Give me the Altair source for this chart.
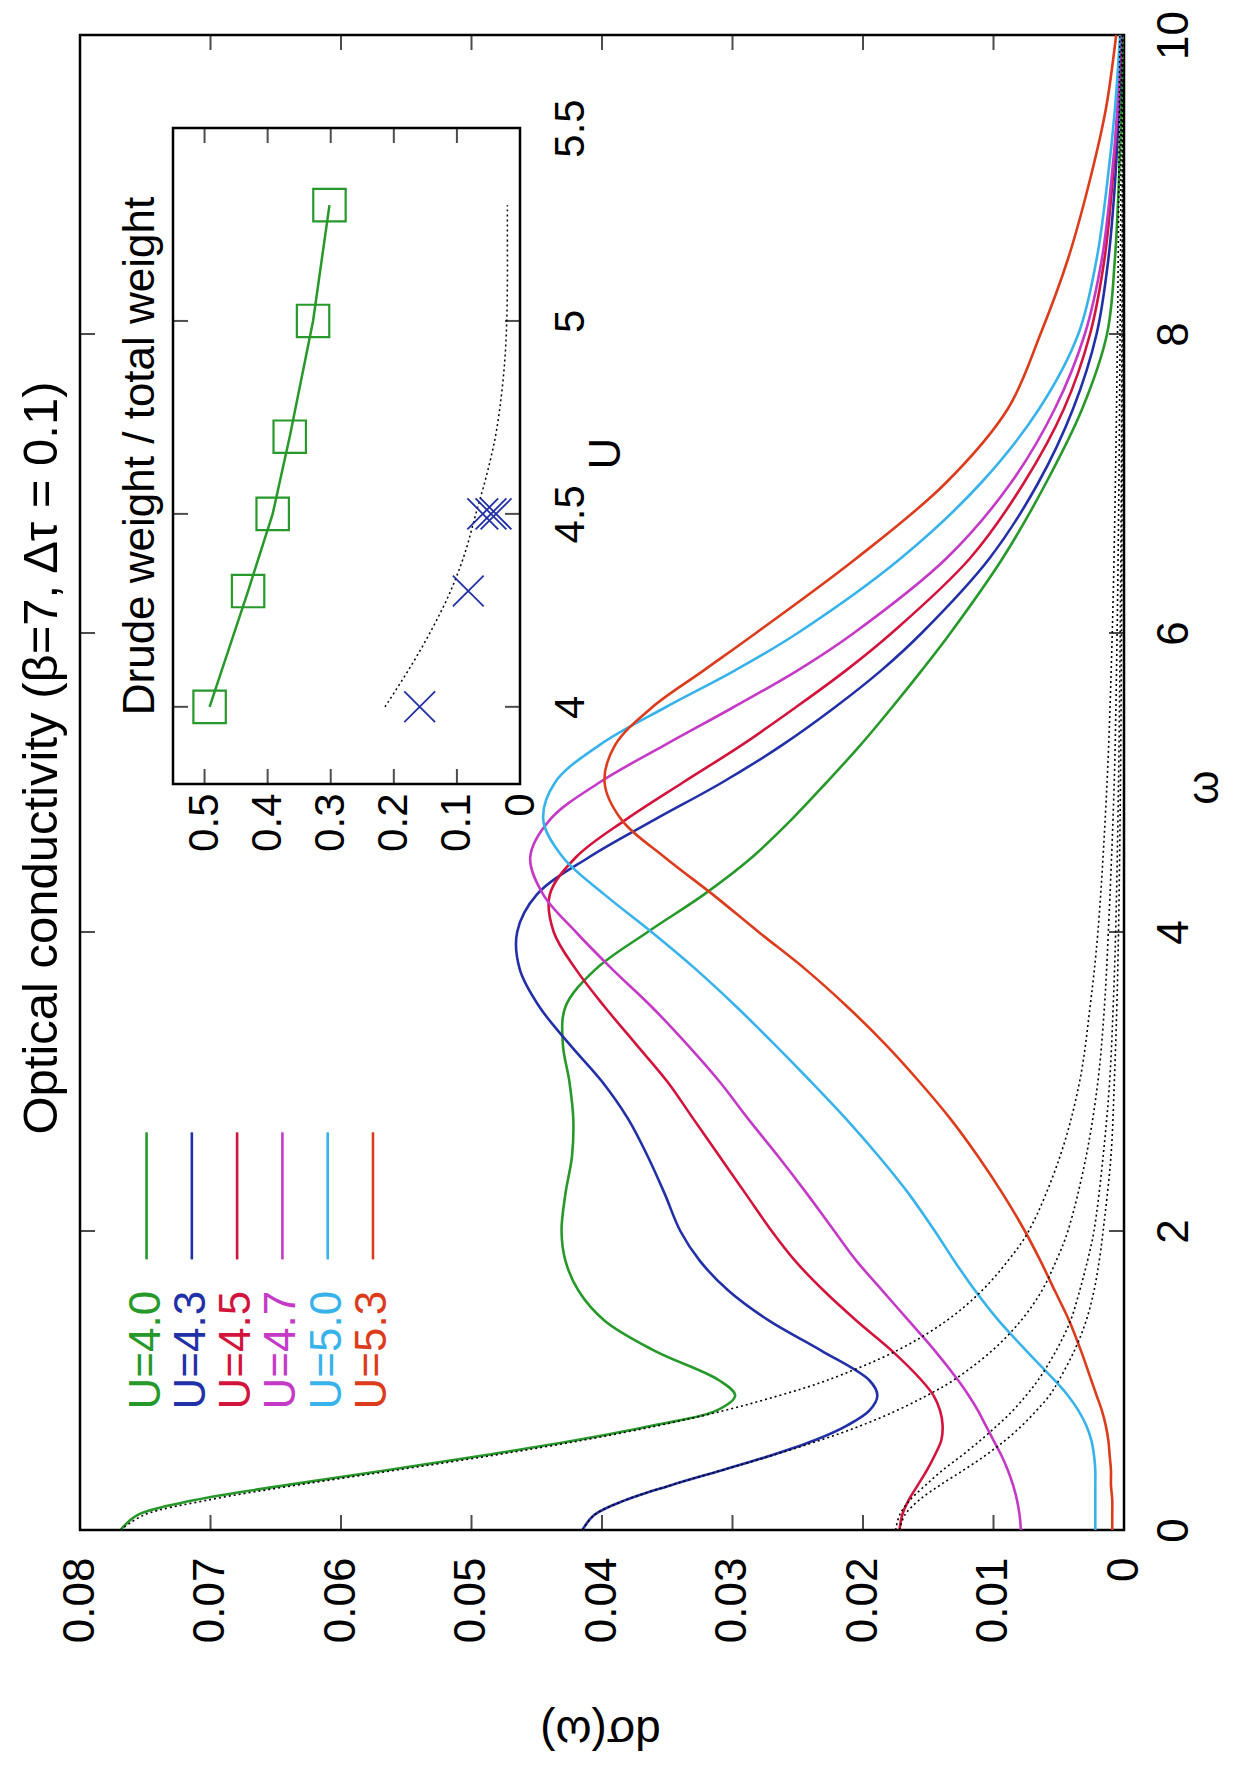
import altair as alt
import pandas as pd

# ---------------- data ----------------
omega = [0, 0.1, 0.2, 0.3, 0.4, 0.5, 0.6, 0.7, 0.8, 0.9, 1.0,
         1.2, 1.4, 1.6, 1.8, 2.0,
         2.25, 2.5, 2.75, 3.0, 3.25, 3.5, 3.75, 4.0, 4.25, 4.5, 4.75, 5.0, 5.25, 5.5, 5.75, 6.0,
         6.5, 7.0, 7.5, 8.0, 8.5, 9.0, 9.5, 10.0]

sigma_u40 = [0.0769, 0.0756, 0.0712, 0.0642, 0.0565, 0.0490, 0.0420, 0.0360, 0.0312, 0.0298, 0.0310,
             0.0360, 0.0398, 0.0418, 0.0428, 0.0431,
             0.0428, 0.0423, 0.0422, 0.0425, 0.0430, 0.0428, 0.0405, 0.0365, 0.0322, 0.0285, 0.0255, 0.0228,
             0.0202, 0.0178, 0.0155, 0.0133,
             0.0093, 0.0060, 0.0032, 0.0013, 0.0007, 0.0004, 0.0002, 0.0001]
sigma_u43 = [0.0415, 0.0406, 0.0382, 0.0347, 0.0308, 0.0270, 0.0237, 0.0212, 0.0195, 0.0189, 0.0195,
             0.0232, 0.0272, 0.0303, 0.0325, 0.0340,
             0.0352, 0.0365, 0.0380, 0.0400, 0.0425, 0.0448, 0.0463, 0.0465, 0.0450, 0.0410, 0.0360, 0.0308,
             0.0262, 0.0222, 0.0186, 0.0155,
             0.0103, 0.0066, 0.0039, 0.0021, 0.0012, 0.0007, 0.0004, 0.0002]
sigma_u45 = [0.0172, 0.0170, 0.0165, 0.0158, 0.0151, 0.0145, 0.0140, 0.0139, 0.0141, 0.0146, 0.0155,
             0.0178, 0.0205, 0.0230, 0.0252, 0.0270,
             0.0290, 0.0310, 0.0330, 0.0350, 0.0374, 0.0398, 0.0420, 0.0437, 0.0440, 0.0420, 0.0382, 0.0338,
             0.0293, 0.0252, 0.0213, 0.0178,
             0.0118, 0.0077, 0.0046, 0.0026, 0.0015, 0.0009, 0.0005, 0.0002]
sigma_u47 = [0.0079, 0.0080, 0.0082, 0.0085, 0.0089, 0.0094, 0.0100, 0.0106, 0.0112, 0.0119, 0.0127,
             0.0145, 0.0165, 0.0185, 0.0205, 0.0222,
             0.0243, 0.0265, 0.0288, 0.0310, 0.0335, 0.0362, 0.0392, 0.0420, 0.0445, 0.0455, 0.0440, 0.0402,
             0.0352, 0.0300, 0.0250, 0.0207,
             0.0136, 0.0087, 0.0053, 0.0030, 0.0017, 0.0010, 0.0005, 0.0002]
sigma_u50 = [0.0022, 0.0022, 0.0022, 0.0022, 0.0022, 0.0023, 0.0025, 0.0029, 0.0035, 0.0043, 0.0053,
             0.0075, 0.0096, 0.0114, 0.0130, 0.0145,
             0.0165, 0.0188, 0.0213, 0.0240, 0.0268, 0.0297, 0.0328, 0.0362, 0.0398, 0.0430, 0.0445, 0.0436,
             0.0402, 0.0352, 0.0298, 0.0250,
             0.0171, 0.0110, 0.0065, 0.0035, 0.0021, 0.0013, 0.0007, 0.0003]
sigma_u53 = [0.0009, 0.0009, 0.0009, 0.0010, 0.0010, 0.0011, 0.0012, 0.0014, 0.0017, 0.0021, 0.0025,
             0.0033, 0.0042, 0.0053, 0.0064, 0.0076,
             0.0093, 0.0112, 0.0133, 0.0157, 0.0183, 0.0212, 0.0244, 0.0280, 0.0315, 0.0352, 0.0385, 0.0398,
             0.0390, 0.0362, 0.0322, 0.0282,
             0.0205, 0.0137, 0.0089, 0.0064, 0.0043, 0.0027, 0.0014, 0.0006]

series_names = ["U=4.0", "U=4.3", "U=4.5", "U=4.7", "U=5.0", "U=5.3"]
series_colors = ["#27982a", "#2230a8", "#d2143c", "#c43ac6", "#38b2ea", "#dc3c1c"]

# dotted Drude-part curves
drude_omega = [0, 0.1, 0.2, 0.3, 0.4, 0.5, 0.6, 0.7, 0.8, 0.9, 1.0, 1.2, 1.4, 1.6, 1.8, 2.0,
               2.5, 3.0, 3.5, 4.0, 5.0, 6.0, 7.0, 8.0, 9.0, 10.0]
drude_u40 = [0.0769, 0.0751, 0.0702, 0.0634, 0.0558, 0.0483, 0.0415, 0.0356, 0.0306, 0.0264, 0.0228,
             0.0174, 0.0136, 0.0109, 0.0089, 0.0073, 0.0049, 0.0034, 0.0026, 0.0020, 0.0013, 0.0009,
             0.00066, 0.0005, 0.0004, 0.00032]
drude_u43 = [0.0415, 0.0406, 0.0382, 0.0347, 0.0308, 0.0269, 0.0233, 0.0201, 0.0174, 0.0151, 0.0131,
             0.0101, 0.0079, 0.0063, 0.0052, 0.0043, 0.0029, 0.0020, 0.0015, 0.0012, 0.00075, 0.00053,
             0.00039, 0.0003, 0.00024, 0.00019]
drude_u45a = [0.0172, 0.0168, 0.0157, 0.0141, 0.0123, 0.0106, 0.0091, 0.0078, 0.0067, 0.0057, 0.0050,
              0.0038, 0.0029, 0.0023, 0.0019, 0.0016, 0.0010, 0.00074, 0.00055, 0.00042, 0.00027, 0.00019,
              0.00014, 0.00011, 0.00009, 0.00007]
drude_u45b = [0.0175, 0.0172, 0.0164, 0.0152, 0.0139, 0.0124, 0.0110, 0.0097, 0.0085, 0.0075, 0.0066,
              0.0052, 0.0041, 0.0034, 0.0028, 0.0023, 0.0016, 0.0011, 0.00083, 0.00064, 0.00042, 0.00029,
              0.00021, 0.00016, 0.00013, 0.00011]

# inset
inset_u = [4.0, 4.3, 4.5, 4.7, 5.0, 5.3]
inset_ratio = [0.492, 0.431, 0.392, 0.365, 0.328, 0.302]
cross_u = [4.0, 4.3, 4.5, 4.5, 4.5]
cross_ratio = [0.159, 0.082, 0.059, 0.046, 0.038]
guide_u = [4.0, 4.1, 4.2, 4.3, 4.4, 4.5, 4.6, 4.7, 4.8, 4.9, 5.0, 5.1, 5.2, 5.3]
guide_ratio = [0.214, 0.175, 0.140, 0.110, 0.087, 0.070, 0.053, 0.039, 0.030, 0.024, 0.021, 0.020, 0.020, 0.020]

sigma_ticks = [0.0, 0.01, 0.02, 0.03, 0.04, 0.05, 0.06, 0.07, 0.08]
omega_ticks = [0, 2, 4, 6, 8, 10]
ratio_ticks = [0.0, 0.1, 0.2, 0.3, 0.4, 0.5]
u_ticks = [4.0, 4.5, 5.0, 5.5]

title_text = "Optical conductivity (β=7, Δτ = 0.1)"
inset_title = "Drude weight / total weight"

# ---------------- tables ----------------
FONT = "Liberation Sans"
all_sig = [sigma_u40, sigma_u43, sigma_u45, sigma_u47, sigma_u50, sigma_u53]
sol = pd.DataFrame([{"omega": w, "sigma": s, "series": n}
                    for n, vals in zip(series_names, all_sig) for w, s in zip(omega, vals)])
all_dr = [drude_u40, drude_u43, drude_u45a, drude_u45b]
dr = pd.DataFrame([{"omega": w, "sigma": s, "fit": k}
                   for k, vals in enumerate(all_dr) for w, s in zip(drude_omega, vals)])

# key placed in data coordinates (where gnuplot put it)
leg = pd.DataFrame({
    "series": series_names,
    "sigma": [0.0749 - 0.00347 * i for i in range(len(series_names))],
    "omega": [1.60] * len(series_names),
    "omega2": [1.81] * len(series_names),
    "omega3": [2.66] * len(series_names),
})

W, H = 1044, 1495
IX0, IX1, IY0, IY1 = 93, 440, 93, 749   # inset box inside the plot area (px)


def xs():
    return alt.Scale(domain=[0, 0.08], reverse=True, nice=False, zero=False)


def ys():
    return alt.Scale(domain=[0, 10], nice=False, zero=False)


def ixs():
    return alt.Scale(domain=[0, 0.55], range=[IX1, IX0], nice=False, zero=False)


def iys():
    return alt.Scale(domain=[3.8, 5.5], range=[IY1, IY0], nice=False, zero=False)


cs = alt.Scale(domain=series_names, range=series_colors)

x_axis = alt.Axis(orient="bottom", values=sigma_ticks, labels=True,
                  labelExpr="datum.value == 0 ? '0' : format(datum.value, '.2f')",
                  labelAngle=270, labelAlign="right", labelBaseline="middle", labelPadding=27,
                  labelFontSize=44, labelFont=FONT, labelColor="black", labelOverlap=False,
                  labelFlush=False, ticks=False, domain=False, grid=False,
                  title="dσ(ω)", titleFont=FONT, titleFontSize=46, titleFontWeight="normal",
                  titleColor="black", titleAngle=180, titleX=520, titleY=200,
                  titleAlign="center", titleBaseline="middle")
y_axis = alt.Axis(orient="right", values=omega_ticks, labels=True, labelAngle=270, labelAlign="center",
                  labelBaseline="top", labelPadding=28, labelFontSize=44, labelFont=FONT,
                  labelColor="black", labelOverlap=False, labelFlush=False, ticks=False,
                  domain=False, grid=False, title="ω", titleFont=FONT, titleFontSize=44,
                  titleFontWeight="normal", titleColor="black", titleAngle=270, titleX=80,
                  titleY=752, titleAlign="center", titleBaseline="middle")

lines = alt.Chart(sol).mark_line(strokeWidth=2.6, interpolate="catmull-rom").encode(
    x=alt.X("sigma:Q", scale=xs(), axis=x_axis),
    y=alt.Y("omega:Q", scale=ys(), axis=y_axis),
    color=alt.Color("series:N", scale=cs, legend=None),
    order=alt.Order("omega:Q"),
)
drude = alt.Chart(dr).mark_line(color="black", strokeWidth=1.6, strokeDash=[2, 3],
                                interpolate="catmull-rom").encode(
    x=alt.X("sigma:Q", scale=xs(), axis=None),
    y=alt.Y("omega:Q", scale=ys(), axis=None),
    detail="fit:N",
    order=alt.Order("omega:Q"),
)

st = pd.DataFrame({"sigma": sigma_ticks[1:-1]})
ot = pd.DataFrame({"omega": omega_ticks[1:-1]})
tk = dict(size=15, thickness=2, color="black")
t_bottom = alt.Chart(st).mark_tick(orient="vertical", yOffset=-7.5, **tk).encode(
    x=alt.X("sigma:Q", scale=xs(), axis=None), y=alt.YDatum(0.0, scale=ys(), axis=None))
t_top = alt.Chart(st).mark_tick(orient="vertical", yOffset=7.5, **tk).encode(
    x=alt.X("sigma:Q", scale=xs(), axis=None), y=alt.YDatum(10.0, scale=ys(), axis=None))
t_left = alt.Chart(ot).mark_tick(orient="horizontal", xOffset=7.5, **tk).encode(
    y=alt.Y("omega:Q", scale=ys(), axis=None), x=alt.XDatum(0.08, scale=xs(), axis=None))
t_right = alt.Chart(ot).mark_tick(orient="horizontal", xOffset=-7.5, **tk).encode(
    y=alt.Y("omega:Q", scale=ys(), axis=None), x=alt.XDatum(0.0, scale=xs(), axis=None))

leg_text = alt.Chart(leg).mark_text(angle=270, align="right", baseline="middle",
                                    fontSize=44, font=FONT).encode(
    x=alt.X("sigma:Q", scale=xs(), axis=None),
    y=alt.Y("omega:Q", scale=ys(), axis=None),
    text="series:N",
    color=alt.Color("series:N", scale=cs, legend=None),
)
leg_line = alt.Chart(leg).mark_rule(strokeWidth=2.6).encode(
    x=alt.X("sigma:Q", scale=xs(), axis=None),
    y=alt.Y("omega2:Q", scale=ys(), axis=None),
    y2="omega3:Q",
    color=alt.Color("series:N", scale=cs, legend=None),
)

title_mark = alt.Chart(pd.DataFrame({"t": [title_text]})).mark_text(
    angle=270, align="center", baseline="middle", fontSize=49, font=FONT, color="black"
).encode(x=alt.value(-38), y=alt.value(723), text="t:N")

# ---------------- inset ----------------
ix_axis = alt.Axis(orient="bottom", offset=-(H - IY1), values=ratio_ticks, labels=True,
                   labelExpr="datum.value == 0 ? '0' : format(datum.value, '.1f')",
                   labelAngle=270, labelAlign="right", labelBaseline="middle", labelPadding=9,
                   labelFontSize=42, labelFont=FONT, labelColor="black", labelOverlap=False,
                   labelFlush=False, ticks=False, domain=False, grid=False, title="")
iy_axis = alt.Axis(orient="right", offset=-(W - IX1), values=u_ticks, labels=True,
                   labelExpr="format(datum.value, '~g')",
                   labelAngle=270, labelAlign="center", labelBaseline="top", labelPadding=30,
                   labelFontSize=42, labelFont=FONT, labelColor="black", labelOverlap=False,
                   labelFlush=False, ticks=False, domain=False, grid=False,
                   title="U", titleFont=FONT, titleFontSize=44, titleFontWeight="normal",
                   titleColor="black", titleAngle=270, titleX=86, titleY=418,
                   titleAlign="center", titleBaseline="middle")

GREEN = series_colors[0]
BLUE = series_colors[1]
sq = pd.DataFrame({"U": inset_u, "ratio": inset_ratio})
cr = pd.DataFrame({"U": cross_u, "ratio": cross_ratio})
gd = pd.DataFrame({"U": guide_u, "ratio": guide_ratio})

frame = alt.Chart(pd.DataFrame({"a": [0]})).mark_rect(fill="white", stroke="black", strokeWidth=2.5).encode(
    x=alt.XDatum(0.0, scale=ixs(), axis=None), x2=alt.X2Datum(0.55),
    y=alt.YDatum(3.8, scale=iys(), axis=None), y2=alt.Y2Datum(5.5))
guide = alt.Chart(gd).mark_line(color="black", strokeWidth=1.5, strokeDash=[2, 3],
                                interpolate="catmull-rom").encode(
    x=alt.X("ratio:Q", scale=ixs(), axis=None), y=alt.Y("U:Q", scale=iys(), axis=None),
    order=alt.Order("U:Q"))
sq_line = alt.Chart(sq).mark_line(color=GREEN, strokeWidth=2.5).encode(
    x=alt.X("ratio:Q", scale=ixs(), axis=ix_axis), y=alt.Y("U:Q", scale=iys(), axis=iy_axis),
    order=alt.Order("U:Q"))
sq_pts = alt.Chart(sq).mark_point(shape="square", size=1050, filled=False, strokeWidth=2.2,
                                  color=GREEN, opacity=1).encode(
    x=alt.X("ratio:Q", scale=ixs(), axis=None), y=alt.Y("U:Q", scale=iys(), axis=None))
cr_pts = alt.Chart(cr).mark_point(shape="M -1 -1 L 1 1 M -1 1 L 1 -1", size=950, filled=False,
                                  strokeWidth=1.8, color=BLUE, opacity=1).encode(
    x=alt.X("ratio:Q", scale=ixs(), axis=None), y=alt.Y("U:Q", scale=iys(), axis=None))

rt = pd.DataFrame({"ratio": ratio_ticks[1:]})
ut = pd.DataFrame({"U": u_ticks[:-1]})
it_bottom = alt.Chart(rt).mark_tick(orient="vertical", yOffset=-7.5, **tk).encode(
    x=alt.X("ratio:Q", scale=ixs(), axis=None), y=alt.YDatum(3.8, scale=iys(), axis=None))
it_top = alt.Chart(rt).mark_tick(orient="vertical", yOffset=7.5, **tk).encode(
    x=alt.X("ratio:Q", scale=ixs(), axis=None), y=alt.YDatum(5.5, scale=iys(), axis=None))
it_left = alt.Chart(ut).mark_tick(orient="horizontal", xOffset=7.5, **tk).encode(
    y=alt.Y("U:Q", scale=iys(), axis=None), x=alt.XDatum(0.55, scale=ixs(), axis=None))
it_right = alt.Chart(ut).mark_tick(orient="horizontal", xOffset=-7.5, **tk).encode(
    y=alt.Y("U:Q", scale=iys(), axis=None), x=alt.XDatum(0.0, scale=ixs(), axis=None))

ititle = alt.Chart(pd.DataFrame({"t": [inset_title]})).mark_text(
    angle=270, align="center", baseline="middle", fontSize=44, font=FONT, color="black"
).encode(x=alt.value(61), y=alt.value(421), text="t:N")

chart = alt.layer(
    lines, drude, t_bottom, t_top, t_left, t_right, leg_line, leg_text, title_mark,
    frame, guide, sq_line, sq_pts, cr_pts, it_bottom, it_top, it_left, it_right, ititle,
).resolve_scale(x="independent", y="independent").properties(
    width=W, height=H,
    background="white",
    autosize=alt.AutoSizeParams(type="none"),
    padding={"left": 72, "top": 27, "right": 115, "bottom": 230},
).configure_view(stroke="black", strokeWidth=2.5)

chart.save("out.html", embed_options={"renderer": "svg", "actions": False})
